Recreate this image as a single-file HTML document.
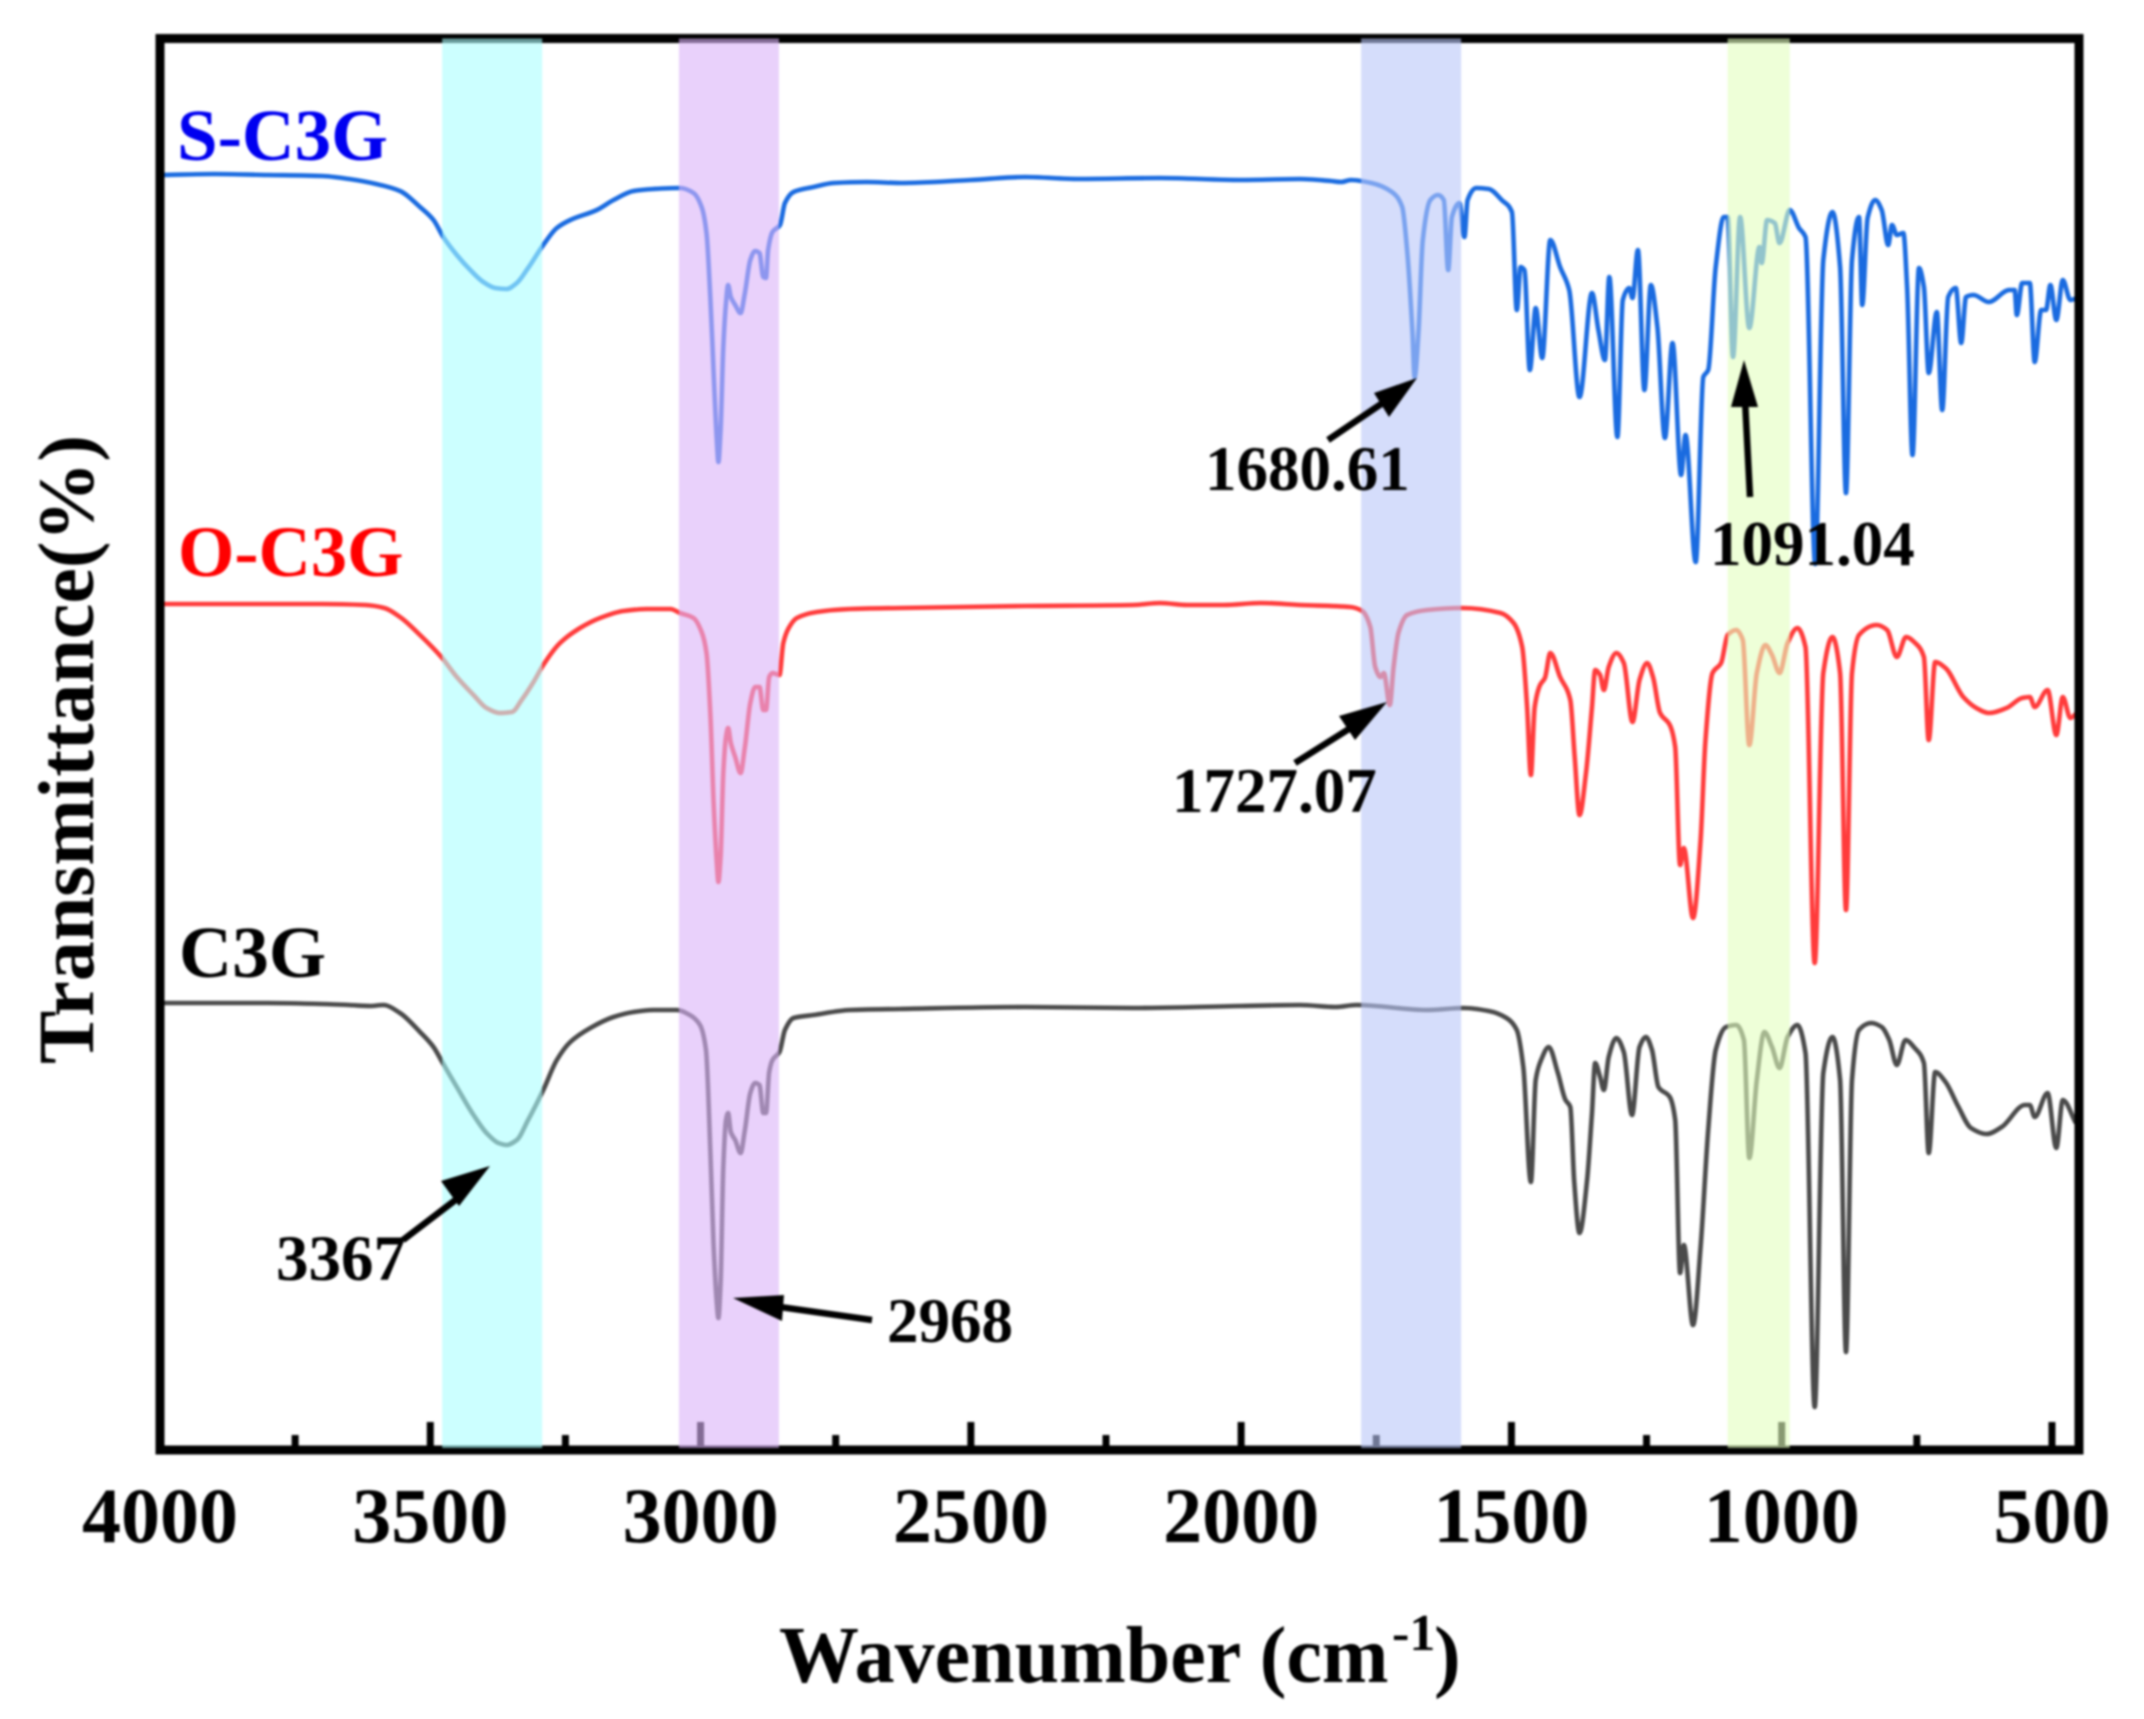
<!DOCTYPE html>
<html lang="en">
<head>
<meta charset="utf-8">
<title>FTIR spectra of S-C3G, O-C3G and C3G</title>
<style>
  html, body { margin: 0; padding: 0; background: #fff; }
  body { width: 2144px; height: 1719px; overflow: hidden; }
  svg { display: block; filter: blur(1.1px); }
  text { font-family: "Liberation Serif", serif; font-weight: bold; fill: #000; }
</style>
</head>
<body>
<svg id="chart" xmlns="http://www.w3.org/2000/svg" width="2144" height="1719" viewBox="0 0 2144 1719">
  <rect x="0" y="0" width="2144" height="1719" fill="#fff"/>
  <g id="series-layer"></g>
  <g id="tick-layer"></g>
  <rect x="160" y="38.5" width="1919" height="1411.5" fill="none" stroke="#000" stroke-width="9"/>
  <g id="band-layer"></g>
  <g id="tick-label-layer" font-size="78" text-anchor="middle"></g>

  <text transform="translate(93,1064) rotate(-90)" font-size="79" textLength="629" lengthAdjust="spacingAndGlyphs">Transmittance(%)</text>
  <text x="779" y="1682" font-size="80">Wavenumber (cm</text>
  <text x="1392" y="1650" font-size="52">-1</text>
  <text x="1434" y="1682" font-size="80">)</text>

  <text x="177" y="160" font-size="73" style="fill:#0000f0">S-C3G</text>
  <text x="178" y="576" font-size="72.5" style="fill:#ff0000">O-C3G</text>
  <text x="179" y="977" font-size="73.5">C3G</text>

  <text x="1205" y="490" font-size="63">1680.61</text>
  <text x="1172" y="812" font-size="63">1727.07</text>
  <text x="1710" y="565" font-size="63">1091.04</text>
  <text x="276" y="1280" font-size="65">3367</text>
  <text x="887" y="1342" font-size="63">2968</text>

  <g fill="#000" stroke="none">
    <g>
      <line x1="1328" y1="440" x2="1390" y2="398" stroke="#000" stroke-width="6.5"/>
      <polygon points="1417,378 1389,417 1374,393"/>
    </g>
    <g>
      <line x1="1295" y1="763" x2="1360" y2="722" stroke="#000" stroke-width="6.5"/>
      <polygon points="1387,702 1355,740 1339,716"/>
    </g>
    <g>
      <line x1="1750" y1="497" x2="1745" y2="400" stroke="#000" stroke-width="6.5"/>
      <polygon points="1744,360 1758,407 1731,407"/>
    </g>
    <g>
      <line x1="403" y1="1240" x2="462" y2="1195" stroke="#000" stroke-width="6.5"/>
      <polygon points="490,1166 459,1206 441,1181"/>
    </g>
    <g>
      <line x1="872" y1="1320" x2="780" y2="1307" stroke="#000" stroke-width="6.5"/>
      <polygon points="733,1298 784,1295 782,1321"/>
    </g>
  </g>
</svg>

<script>
// Spectra as [wavenumber cm-1, transmittance a.u.] readings from the picture
const sC3gSpectrum = [
  [3995,1275],[3900,1276],[3800,1275],[3700,1274],[3650,1271],[3600,1266],[3556,1259],[3519,1243],[3494,1230],[3476,1213],
  [3451,1195],[3426,1180],[3402,1168],[3380,1162],[3359,1161],[3340,1167],[3319,1182],[3291,1205],[3266,1222],[3241,1230],
  [3192,1240],[3161,1250],[3124,1259],[3087,1261],[3038,1262],[3013,1257],[2998,1243],[2989,1217],[2982,1153],[2976,1080],
  [2970,1010],[2967,988],[2963,1020],[2958,1103],[2953,1147],[2949,1165],[2944,1153],[2936,1145],[2926,1137],[2918,1157],
  [2908,1190],[2899,1199],[2891,1197],[2884,1173],[2879,1172],[2875,1200],[2867,1218],[2853,1225],[2844,1247],[2828,1258],
  [2791,1263],[2754,1267],[2693,1268],[2631,1267],[2500,1270],[2400,1273],[2300,1271],[2150,1272],[2000,1270],[1891,1271],
  [1834,1269],[1815,1268],[1797,1270],[1759,1267],[1721,1258],[1702,1243],[1693,1200],[1683,1117],[1679,1073],[1672,1117],
  [1664,1210],[1650,1250],[1636,1255],[1625,1250],[1617,1180],[1610,1233],[1596,1247],[1587,1213],[1581,1250],[1565,1262],
  [1542,1261],[1518,1250],[1499,1238],[1490,1140],[1483,1183],[1476,1180],[1466,1080],[1455,1142],[1443,1092],[1428,1210],
  [1410,1183],[1393,1160],[1374,1053],[1351,1157],[1339,1120],[1327,1090],[1319,1173],[1304,1013],[1294,1150],[1282,1162],
  [1276,1152],[1266,1200],[1254,1060],[1242,1165],[1230,1123],[1216,1012],[1202,1107],[1186,975],[1178,1015],[1159,888],
  [1145,1073],[1136,1080],[1122,1183],[1107,1233],[1100,1233],[1090,1093],[1077,1233],[1060,1122],[1041,1203],[1037,1187],
  [1027,1230],[1013,1227],[1004,1207],[985,1240],[968,1222],[956,1213],[938,886],[923,1190],[906,1238],[892,1183],
  [881,957],[870,1190],[857,1233],[851,1145],[841,1232],[827,1250],[815,1240],[803,1205],[796,1225],[787,1215],
  [775,1217],[768,1163],[758,995],[746,1182],[737,1163],[728,1077],[713,1138],[703,1040],[692,1153],[678,1162],
  [668,1107],[659,1153],[645,1155],[617,1148],[579,1160],[569,1160],[565,1135],[555,1167],[541,1167],[532,1088],
  [520,1140],[511,1140],[503,1165],[492,1130],[480,1170],[466,1150],[454,1152]
];
const oC3gSpectrum = [
  [3995,846],[3900,846],[3800,846],[3700,846],[3620,845],[3585,842],[3556,833],[3519,815],[3478,792],[3451,773],
  [3420,755],[3396,742],[3371,737],[3349,738],[3331,750],[3309,768],[3291,785],[3260,807],[3223,822],[3186,832],
  [3143,839],[3100,841],[3056,841],[3038,837],[3013,832],[2998,818],[2989,797],[2982,737],[2976,650],[2970,587],
  [2967,568],[2963,593],[2958,677],[2953,713],[2949,722],[2944,707],[2936,693],[2926,677],[2918,703],[2908,747],
  [2899,763],[2891,763],[2884,740],[2879,740],[2873,773],[2867,777],[2854,775],[2847,807],[2837,822],[2822,832],
  [2785,838],[2723,841],[2631,842],[2400,844],[2200,845],[2150,847],[2100,845],[2032,845],[1964,847],[1890,845],
  [1798,843],[1776,839],[1761,823],[1752,783],[1742,773],[1736,777],[1725,745],[1718,783],[1709,817],[1693,835],
  [1656,840],[1591,842],[1520,837],[1496,827],[1480,803],[1471,743],[1464,675],[1457,743],[1447,765],[1438,772],
  [1428,797],[1410,773],[1391,750],[1383,693],[1374,635],[1362,677],[1351,743],[1345,780],[1336,775],[1329,760],
  [1320,783],[1306,797],[1292,787],[1276,728],[1263,770],[1249,787],[1238,773],[1225,737],[1207,725],[1197,703],
  [1188,585],[1181,602],[1164,532],[1150,610],[1141,710],[1128,777],[1112,787],[1100,815],[1084,820],[1072,810],
  [1060,705],[1046,777],[1030,805],[1018,795],[1004,777],[989,807],[971,822],[956,803],[939,487],[923,777],
  [906,813],[892,777],[881,540],[870,777],[857,815],[824,825],[805,820],[787,793],[770,813],[753,807],
  [737,793],[728,710],[716,788],[697,782],[664,753],[640,742],[617,737],[584,742],[555,752],[541,753],
  [532,743],[508,760],[492,715],[480,753],[466,732],[454,737]
];
const c3gSpectrum = [
  [3995,447],[3900,447],[3800,447],[3700,446],[3650,445],[3611,444],[3587,445],[3556,437],[3519,418],[3494,403],
  [3478,388],[3451,363],[3420,335],[3396,317],[3374,307],[3359,305],[3340,310],[3319,330],[3291,360],[3266,390],
  [3241,408],[3204,422],[3161,433],[3124,438],[3087,440],[3044,440],[3020,435],[3001,425],[2990,400],[2982,300],
  [2976,207],[2970,147],[2967,132],[2963,167],[2958,283],[2953,330],[2949,337],[2944,318],[2936,310],[2926,297],
  [2918,320],[2908,357],[2899,367],[2891,365],[2884,337],[2879,337],[2873,378],[2867,390],[2854,398],[2844,420],
  [2828,432],[2791,435],[2723,440],[2631,441],[2400,443],[2200,442],[2000,444],[1891,445],[1825,443],[1787,445],
  [1655,440],[1589,442],[1542,439],[1509,432],[1490,420],[1478,383],[1464,268],[1455,370],[1445,390],[1431,403],
  [1414,377],[1400,350],[1391,343],[1384,270],[1374,217],[1360,270],[1351,337],[1345,387],[1336,373],[1329,360],
  [1320,393],[1306,412],[1292,398],[1277,335],[1263,403],[1251,413],[1240,400],[1228,363],[1207,353],[1197,330],
  [1188,177],[1181,205],[1164,125],[1150,203],[1136,320],[1122,400],[1103,423],[1084,425],[1070,410],[1060,292],
  [1046,370],[1032,418],[1018,403],[1004,382],[989,413],[971,425],[956,397],[939,43],[923,377],[906,413],
  [892,370],[881,98],[870,370],[857,420],[834,427],[815,423],[801,410],[787,385],[771,410],[754,402],
  [737,387],[728,297],[716,378],[697,368],[673,343],[650,322],[621,316],[593,323],[550,345],[541,345],
  [532,333],[508,357],[492,302],[480,350],[456,327]
];
const majorTicks = [4000,3500,3000,2500,2000,1500,1000,500];
const minorTicks = [3750,3250,2750,2250,1750,1250,750];
const bandCyan = [3478,3293];
const bandPurple = [3040,2855];
const bandBlue = [1778,1593];
const bandGreen = [1100,985];

const NS = 'http://www.w3.org/2000/svg';
const plotLeft = 160, plotRight = 2079, plotTop = 38.5, plotBottom = 1450;
const xDomain = [4000, 450];
const yDomain = [0, 1411.5];

function xScale(w) {
  return plotLeft + (xDomain[0] - w) / (xDomain[0] - xDomain[1]) * (plotRight - plotLeft);
}
function yScale(v) {
  return plotBottom - (v - yDomain[0]) / (yDomain[1] - yDomain[0]) * (plotBottom - plotTop);
}

// Monotone cubic path through the scaled readings, so the curve never overshoots a peak
function monotonePath(points) {
  const xs = points.map(function (p) { return xScale(p[0]); });
  const ys = points.map(function (p) { return yScale(p[1]); });
  const n = xs.length;
  const slopes = [];
  for (let i = 0; i < n - 1; i++) {
    slopes.push((ys[i + 1] - ys[i]) / (xs[i + 1] - xs[i]));
  }
  const tangents = [slopes[0]];
  for (let i = 1; i < n - 1; i++) {
    if (slopes[i - 1] * slopes[i] <= 0) {
      tangents.push(0);
    } else {
      const h0 = xs[i] - xs[i - 1];
      const h1 = xs[i + 1] - xs[i];
      const w1 = 2 * h1 + h0;
      const w2 = h1 + 2 * h0;
      tangents.push((w1 + w2) / (w1 / slopes[i - 1] + w2 / slopes[i]));
    }
  }
  tangents.push(slopes[n - 2]);
  let d = 'M' + xs[0].toFixed(1) + ' ' + ys[0].toFixed(1);
  for (let i = 0; i < n - 1; i++) {
    const h = (xs[i + 1] - xs[i]) / 3;
    d += 'C' + (xs[i] + h).toFixed(1) + ' ' + (ys[i] + tangents[i] * h).toFixed(1) + ' ' +
         (xs[i + 1] - h).toFixed(1) + ' ' + (ys[i + 1] - tangents[i + 1] * h).toFixed(1) + ' ' +
         xs[i + 1].toFixed(1) + ' ' + ys[i + 1].toFixed(1);
  }
  return d;
}

function drawSeries(points, colour, name) {
  const path = document.createElementNS(NS, 'path');
  path.setAttribute('d', monotonePath(points));
  path.setAttribute('fill', 'none');
  path.setAttribute('stroke', colour);
  path.setAttribute('stroke-width', '4.6');
  path.setAttribute('stroke-linejoin', 'round');
  
  
  document.getElementById('series-layer').appendChild(path);
}
drawSeries(sC3gSpectrum, '#1a6be0', 'series-s-c3g');
drawSeries(oC3gSpectrum, '#ff3b3b', 'series-o-c3g');
drawSeries(c3gSpectrum, '#4a4a4a', 'series-c3g');

function drawTick(w, length, name) {
  const tick = document.createElementNS(NS, 'line');
  tick.setAttribute('x1', xScale(w));
  tick.setAttribute('x2', xScale(w));
  tick.setAttribute('y1', plotBottom);
  tick.setAttribute('y2', plotBottom - length);
  tick.setAttribute('stroke', '#000');
  tick.setAttribute('stroke-width', '7');
  
  
  document.getElementById('tick-layer').appendChild(tick);
}
majorTicks.forEach(function (w) { drawTick(w, 28, 'major-tick-' + w); });
minorTicks.forEach(function (w) { drawTick(w, 15, 'minor-tick-' + w); });

majorTicks.forEach(function (w) {
  const label = document.createElementNS(NS, 'text');
  label.setAttribute('x', xScale(w));
  label.setAttribute('y', 1542);
  label.textContent = String(w);
  
  
  document.getElementById('tick-label-layer').appendChild(label);
});

function drawBand(range, colour, name) {
  const band = document.createElementNS(NS, 'rect');
  band.setAttribute('x', xScale(range[0]));
  band.setAttribute('width', xScale(range[1]) - xScale(range[0]));
  band.setAttribute('y', plotTop);
  band.setAttribute('height', plotBottom - plotTop - 2);
  band.setAttribute('fill', colour);
  band.setAttribute('fill-opacity', '0.6');
  
  
  document.getElementById('band-layer').appendChild(band);
}
drawBand(bandCyan, 'rgb(170,255,255)', 'band-3367');
drawBand(bandPurple, 'rgb(218,178,248)', 'band-2968');
drawBand(bandBlue, 'rgb(185,198,248)', 'band-1680');
drawBand(bandGreen, 'rgb(227,255,190)', 'band-1091');
</script>
</body>
</html>
